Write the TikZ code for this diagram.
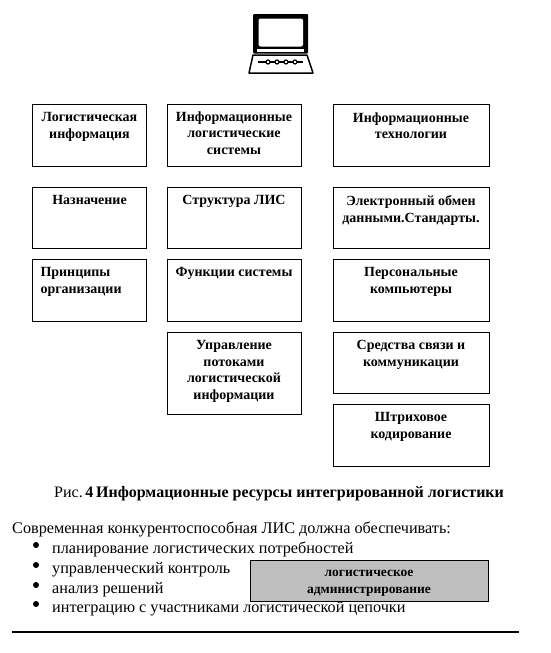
\documentclass[tikz,border=0pt]{standalone}
\usepackage{fontspec}
\setmainfont{Liberation Serif}
\newcommand{\boxtext}[3]{\parbox[c][#2pt][t]{#1pt}{\centering\vspace*{1.5pt}#3}}
\tikzset{
	infobox/.style={draw, line width=1pt, inner xsep=8pt, inner ysep=7pt, font=\fontsize{14}{16.5}\selectfont\bfseries},
	listdot/.style={circle, fill, inner sep=0pt, minimum size=6pt},
	listitem/.style={anchor=base west, inner sep=0pt, font=\fontsize{16.2}{18}\selectfont}
}
\begin{document}
\begin{tikzpicture}[x=1pt, y=-1pt]
	\useasboundingbox (0,0) rectangle (550,653);

	% laptop
	\fill[rounded corners=1pt] (253,14) rectangle (308,53.5);
	\fill[white, rounded corners=2pt] (258.5,18.5) rectangle (303,46.5);
	\fill[white] (257,49) rectangle (304,51.5);
	\draw[line width=1.5pt, line join=round] (253,55) -- (307,55) -- (313,73) -- (249,73) -- cycle;
	\draw[line width=1.5pt] (258,62) -- (303,62);
	\foreach \x in {268,277,286,295}
	\fill[white, draw=black, line width=1.2pt] (\x,62) circle (2pt);

	% left column
	\node[infobox] (logInfo) at (89.5,135) {\boxtext{98}{48}{Логистическая\\информация}};
	\node[infobox] (purpose) at (89.5,217.5) {\boxtext{98}{47}{Назначение}};
	\node[infobox] (principles) at (89.5,290) {\boxtext{98}{48}{\raggedright Принципы\\организации}};

	% middle column
	\node[infobox] (infoSystems) at (234,135) {\boxtext{118}{48}{\vspace*{-1pt}Информационные\\логистические\\системы}};
	\node[infobox] (structure) at (234,217.5) {\boxtext{118}{47}{Структура ЛИС}};
	\node[infobox] (functions) at (234,290) {\boxtext{118}{48}{Функции системы}};
	\node[infobox] (flowControl) at (234,373) {\boxtext{118}{68}{Управление\\потоками\\логистической\\информации}};

	% right column
	\node[infobox] (infoTech) at (411,135) {\boxtext{140}{48}{Информационные\\технологии}};
	\node[infobox] (edi) at (411,217.5) {\boxtext{140}{47}{Электронный обмен\\данными.Стандарты.}};
	\node[infobox] (computers) at (411,290) {\boxtext{140}{48}{Персональные\\компьютеры}};
	\node[infobox] (comms) at (411,362.5) {\boxtext{140}{47}{Средства связи и\\коммуникации}};
	\node[infobox] (barcode) at (411,435) {\boxtext{140}{48}{Штриховое\\кодирование}};

	% caption
	\node[listitem, font=\fontsize{16}{18}\selectfont] (caption) at (54,497) {Рис.\,\textbf{4}\,\textbf{Информационные ресурсы интегрированной логистики}};

	% list
	\node[listitem] (intro) at (12,533) {Современная конкурентоспособная ЛИС должна обеспечивать:};
	\foreach \y/\name/\txt in {553/planning/планирование логистических потребностей,
		573/control/управленческий контроль,
		593/analysis/анализ решений,
		612/integration/интеграцию с участниками логистической цепочки}{
		\node[listitem] (\name) at (52,\y) {\txt};
		\node[listdot] (dot\name) at (36,\y-8) {};
	}

	\node[infobox, fill=black!25, inner ysep=0pt, font=\fontsize{13.5}{17}\selectfont\bfseries] (admin) at (369,580.5) {\boxtext{222}{41}{\vspace*{9pt}логистическое\\администрирование}};

	\coordinate (ruleL) at (12,632);
	\coordinate (ruleR) at (519,632);
	\draw[line width=1.5pt] (ruleL) -- (ruleR);
\end{tikzpicture}
\end{document}
